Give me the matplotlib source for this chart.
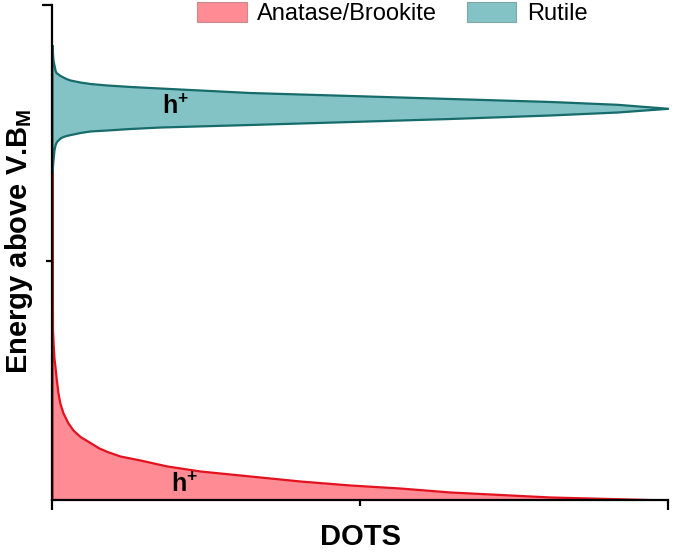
import matplotlib
matplotlib.use("Agg")
import matplotlib.pyplot as plt
from matplotlib.patches import Patch

plt.rcParams['font.family'] = ['Liberation Sans', 'DejaVu Sans']
plt.rcParams['mathtext.fontset'] = 'custom'
plt.rcParams['mathtext.default'] = 'regular'

# Rutile: trap states peak (energy vs DOTS)
rutile_energy = [0.6626, 0.6869, 0.7071, 0.7172, 0.7222, 0.7253, 0.7313, 0.7343,
                 0.7364, 0.7394, 0.7424, 0.7455, 0.7475, 0.7505, 0.7535, 0.7586,
                 0.7646, 0.7707, 0.7778, 0.7838, 0.7913, 0.7994, 0.8051, 0.8111,
                 0.8172, 0.8232, 0.8323, 0.8354, 0.8384, 0.8414, 0.8444, 0.8485,
                 0.8515, 0.8545, 0.8576, 0.8606, 0.8636, 0.8687, 0.8889, 0.9192]
rutile_dots = [0.0, 0.0016, 0.0032, 0.0049, 0.0065, 0.0081, 0.0130, 0.0179,
               0.0227, 0.0341, 0.0455, 0.0617, 0.0893, 0.1266, 0.1753, 0.3214,
               0.4838, 0.6461, 0.8084, 0.9172, 1.0, 0.9172, 0.8084, 0.6461,
               0.4838, 0.3214, 0.1753, 0.1266, 0.0893, 0.0617, 0.0455, 0.0292,
               0.0227, 0.0179, 0.0130, 0.0097, 0.0065, 0.0049, 0.0016, 0.0]

# Anatase/Brookite: exponential tail (DOTS vs energy)
anatase_dots = [0.0, 0.0008, 0.0024, 0.0032, 0.0049, 0.0073, 0.0097, 0.0130,
                0.0179, 0.0260, 0.0341, 0.0455, 0.0617, 0.0755, 0.0893, 0.1104,
                0.1429, 0.1867, 0.2403, 0.3214, 0.4026, 0.4838, 0.5649, 0.6461,
                0.8084, 0.9984]
anatase_energy = [0.6626, 0.3434, 0.3030, 0.2869, 0.2687, 0.2404, 0.2162, 0.1949,
                  0.1758, 0.1556, 0.1414, 0.1283, 0.1162, 0.1055, 0.0980, 0.0889,
                  0.0808, 0.0687, 0.0586, 0.0485, 0.0384, 0.0303, 0.0242, 0.0162,
                  0.0061, 0.0]

labels = ['Anatase/Brookite', 'Rutile']
red_fill, red_edge = '#ff8c94', '#e3121f'
teal_fill, teal_edge = '#84c3c5', '#166b6b'

fig = plt.figure(figsize=(6.75, 5.52), dpi=100)
ax = fig.add_axes([52/675, 52/552, 616/675, 495/552])

ax.fill_between(anatase_dots, 0, anatase_energy, facecolor=red_fill,
                edgecolor=red_edge, linewidth=1.6, zorder=2)
ax.fill_betweenx(rutile_energy, 0, rutile_dots, facecolor=teal_fill,
                 edgecolor=teal_edge, linewidth=1.6, zorder=2)

ax.text(0.201, 0.794, 'h$^{+}$', fontsize=18, fontweight='bold', ha='center', va='center')
ax.text(0.215, 0.03, 'h$^{+}$', fontsize=18, fontweight='bold', ha='center', va='center')

ax.set_xlim(0, 1)
ax.set_ylim(0, 1)
for s in ['top', 'right']:
    ax.spines[s].set_visible(False)
for s in ['left', 'bottom']:
    ax.spines[s].set_linewidth(1.6)
    ax.spines[s].set_zorder(3)

ax.set_xticks([0, 1])
ax.set_xticks([0.5], minor=True)
ax.set_yticks([1])
ax.set_yticks([0.483], minor=True)
ax.set_xticklabels([])
ax.set_yticklabels([])
ax.tick_params(which='major', direction='out', length=7.5, width=1.6)
ax.tick_params(which='minor', direction='out', length=4.5, width=1.6)

fig.text(361/675, 1 - 545/552, 'DOTS', fontsize=21, fontweight='bold',
         ha='center', va='baseline')
fig.text(19/675, 1 - 241/552, 'Energy above V.B$_{M}$', fontsize=21,
         fontweight='bold', rotation=90, ha='center', va='center')

handles = [Patch(facecolor=red_fill, edgecolor='#c98a8f', linewidth=0.8),
           Patch(facecolor=teal_fill, edgecolor='#7fa5a6', linewidth=0.8)]
fig.legend(handles, labels, ncol=2, frameon=False, fontsize=17,
           loc='upper left', bbox_to_anchor=(197/675, 1 - 2/552),
           borderpad=0, borderaxespad=0, handlelength=2.1, handleheight=0.95,
           handletextpad=0.45, columnspacing=1.25)

fig.savefig('out.png', dpi=100)
